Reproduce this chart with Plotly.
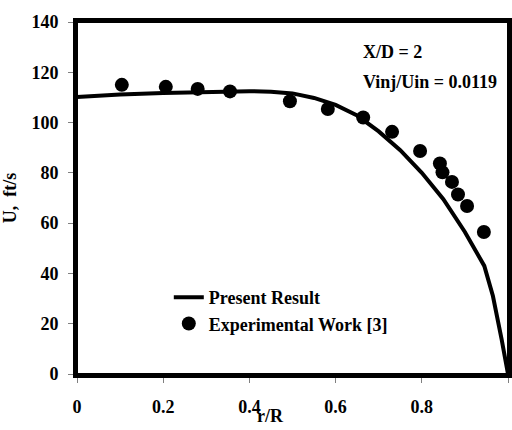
import plotly.graph_objects as go

# Present Result (model curve)
line_r = [0, 0.1, 0.2, 0.3, 0.4, 0.45, 0.5, 0.55, 0.6, 0.65, 0.7, 0.75, 0.8, 0.85, 0.9, 0.945, 0.965, 0.985, 1.0]
line_u = [110.2, 111.2, 111.8, 112.2, 112.5, 112.3, 111.6, 109.8, 107.0, 102.8, 96.5, 89.0, 80.0, 69.5, 56.5, 43.0, 31.0, 14.0, 0.0]

# Experimental Work [3]
exp_r = [0.104, 0.206, 0.28, 0.355, 0.494, 0.582, 0.664, 0.731, 0.796, 0.842, 0.848, 0.870, 0.884, 0.905, 0.944]
exp_u = [115.0, 114.2, 113.4, 112.4, 108.5, 105.4, 102.0, 96.3, 88.7, 83.7, 80.2, 76.4, 71.4, 66.8, 56.5]

x_ticks = [0, 0.2, 0.4, 0.6, 0.8, 1]
x_tick_text = ["0", "0.2", "0.4", "0.6", "0.8", "1"]
y_ticks = [0, 20, 40, 60, 80, 100, 120, 140]

FONT = "Liberation Serif"

fig = go.Figure()
fig.add_trace(go.Scatter(x=line_r, y=line_u, mode="lines", name="<b>Present Result</b>",
                         line=dict(color="#000000", width=4)))
fig.add_trace(go.Scatter(x=exp_r, y=exp_u, mode="markers", name="<b>Experimental Work [3]</b>",
                         marker=dict(color="#000000", size=14)))

fig.update_layout(
    width=512, height=430,
    margin=dict(l=77, r=4, t=22, b=56, autoexpand=False),
    plot_bgcolor="white", paper_bgcolor="white",
    font=dict(family=FONT, size=18, color="#000000"),
    showlegend=True,
    legend=dict(x=0.213, y=0.27, xanchor="left", yanchor="top", bgcolor="rgba(0,0,0,0)",
                font=dict(family=FONT, size=18, color="#000000")),
    xaxis=dict(range=[0, 1], tickvals=x_ticks, ticktext=[f"<b>{t}</b>" for t in x_tick_text],
               automargin=False, showgrid=False, zeroline=False,
               showline=True, linecolor="black", linewidth=4, mirror=True,
               ticks="outside", ticklen=5, tickcolor="#808080", tickwidth=1,
               ticklabelstandoff=8,
               tickfont=dict(family=FONT, size=18, color="#000000")),
    yaxis=dict(range=[0, 140], tickvals=y_ticks, ticktext=[f"<b>{t}</b>" for t in y_ticks],
               automargin=False, showgrid=False, zeroline=False,
               showline=True, linecolor="black", linewidth=4, mirror=True,
               ticks="outside", ticklen=5, tickcolor="#808080", tickwidth=1,
               ticklabelstandoff=6,
               tickfont=dict(family=FONT, size=18, color="#000000"),
               title=dict(text="<b>U,  ft/s</b>", standoff=12,
                          font=dict(family=FONT, size=18, color="#000000"))),
    shapes=[dict(type="rect", xref="paper", yref="paper", x0=0, y0=0, x1=1, y1=1,
                 line=dict(color="black", width=2), layer="above")],
)

fig.add_annotation(x=0.45, y=-0.12, xref="paper", yref="paper", xanchor="center", yanchor="middle",
                   text="<b>r/R</b>", showarrow=False,
                   font=dict(family=FONT, size=18, color="#000000"))
fig.add_annotation(x=0.66, y=0.915, xref="paper", yref="paper", xanchor="left", yanchor="middle",
                   text="<b>X/D = 2</b>", showarrow=False,
                   font=dict(family=FONT, size=18, color="#000000"))
fig.add_annotation(x=0.66, y=0.83, xref="paper", yref="paper", xanchor="left", yanchor="middle",
                   text="<b>Vinj/Uin = 0.0119</b>", showarrow=False,
                   font=dict(family=FONT, size=18, color="#000000"))

fig.write_html("out.html")
